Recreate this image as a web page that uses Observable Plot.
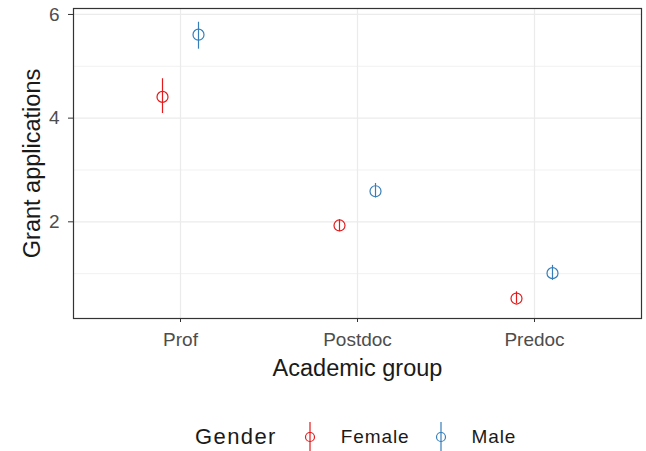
<!DOCTYPE html>
<html><head><meta charset="utf-8">
<script src="https://cdn.jsdelivr.net/npm/d3@7"></script>
<script src="https://cdn.jsdelivr.net/npm/@observablehq/plot@0.6"></script>
<style>
body{margin:0;background:#fff;font-family:"Liberation Sans",Arial,sans-serif}
#legend{display:flex;align-items:center;justify-content:flex-start;box-sizing:border-box;height:51px;padding-top:23px;padding-left:195px;width:646px;color:#1a1a1a}
#legend .title{font-size:22px;letter-spacing:1.4px;margin-right:25px}
#legend .lab{font-size:19px;letter-spacing:0.9px;margin-left:23px;margin-right:23px}
</style>
</head><body><div id="chart"></div><div id="legend"></div><script>
const groups = ["Prof", "Postdoc", "Predoc"];
const genders = ["Female", "Male"];
const colors = ["#E41A1C", "#377EB8"];
const femaleMean = [4.41, 1.93, 0.52];
const femaleLow  = [4.09, 1.81, 0.42];
const femaleHigh = [4.76, 2.04, 0.65];
const maleMean = [5.61, 2.59, 1.01];
const maleLow  = [5.33, 2.46, 0.87];
const maleHigh = [5.85, 2.74, 1.16];
const yMajor = [2, 4, 6];
const yMinor = [1, 3, 5];

const female = groups.map((g, i) => ({group: g, gender: "Female", mean: femaleMean[i], lo: femaleLow[i], hi: femaleHigh[i]}));
const male = groups.map((g, i) => ({group: g, gender: "Male", mean: maleMean[i], lo: maleLow[i], hi: maleHigh[i]}));

const font = "Liberation Sans, Arial, sans-serif";
const plot = Plot.plot({
  width: 646, height: 400,
  marginLeft: 73, marginRight: 5, marginTop: 8, marginBottom: 82,
  style: {fontFamily: font, background: "white", overflow: "visible"},
  x: {type: "point", domain: groups, padding: 0.6, label: null},
  y: {domain: [0.135, 6.115], label: null},
  color: {domain: genders, range: colors},
  marks: [
    Plot.gridY(yMinor, {stroke: "#EBEBEB", strokeOpacity: 1, strokeWidth: 0.7}),
    Plot.gridY(yMajor, {stroke: "#EBEBEB", strokeOpacity: 1, strokeWidth: 1.2}),
    Plot.gridX(groups, {stroke: "#EBEBEB", strokeOpacity: 1, strokeWidth: 1.2}),
    Plot.frame({stroke: "#333333", strokeWidth: 1.2}),
    Plot.axisX({tickSize: 4, stroke: "#333333", fill: "#4D4D4D", fontSize: 19, letterSpacing: 1.0, tickPadding: 10, label: null}),
    Plot.axisY(yMajor, {tickSize: 5, stroke: "#333333", fill: "#4D4D4D", fontSize: 19, tickPadding: 9, tickFormat: "d", label: null}),
    Plot.text(["Academic group"], {text: d => d, frameAnchor: "bottom", dy: 57, fontSize: 23.5, letterSpacing: 1.3, fill: "#1a1a1a"}),
    Plot.text(["Grant applications"], {text: d => d, frameAnchor: "left", textAnchor: "middle", dx: -41, rotate: -90, fontSize: 23.5, letterSpacing: 0.7, fill: "#1a1a1a"}),
    Plot.ruleX(female, {x: "group", y1: "lo", y2: "hi", stroke: "gender", strokeWidth: 1.2, dx: -18}),
    Plot.dot(female, {x: "group", y: "mean", r: 5.5, stroke: "gender", strokeWidth: 1.2, fill: "none", dx: -18}),
    Plot.ruleX(male, {x: "group", y1: "lo", y2: "hi", stroke: "gender", strokeWidth: 1.2, dx: 18}),
    Plot.dot(male, {x: "group", y: "mean", r: 5.5, stroke: "gender", strokeWidth: 1.2, fill: "none", dx: 18})
  ]
});
document.getElementById("chart").appendChild(plot);

const legend = document.getElementById("legend");
const t = document.createElement("span");
t.className = "title"; t.textContent = "Gender";
legend.appendChild(t);
genders.forEach((g, i) => {
  const ns = "http://www.w3.org/2000/svg";
  const s = document.createElementNS(ns, "svg");
  s.setAttribute("width", 16); s.setAttribute("height", 32);
  s.style.flex = "none";
  const l = document.createElementNS(ns, "line");
  l.setAttribute("x1", 8); l.setAttribute("x2", 8); l.setAttribute("y1", 1); l.setAttribute("y2", 31);
  l.setAttribute("stroke", colors[i]); l.setAttribute("stroke-width", 1.2);
  const c = document.createElementNS(ns, "circle");
  c.setAttribute("cx", 8); c.setAttribute("cy", 16); c.setAttribute("r", 4.5);
  c.setAttribute("stroke", colors[i]); c.setAttribute("stroke-width", 1.2); c.setAttribute("fill", "none");
  s.appendChild(l); s.appendChild(c);
  legend.appendChild(s);
  const lab = document.createElement("span");
  lab.className = "lab"; lab.textContent = g;
  if (i === genders.length - 1) lab.style.marginRight = "0";
  legend.appendChild(lab);
});
</script></body></html>
